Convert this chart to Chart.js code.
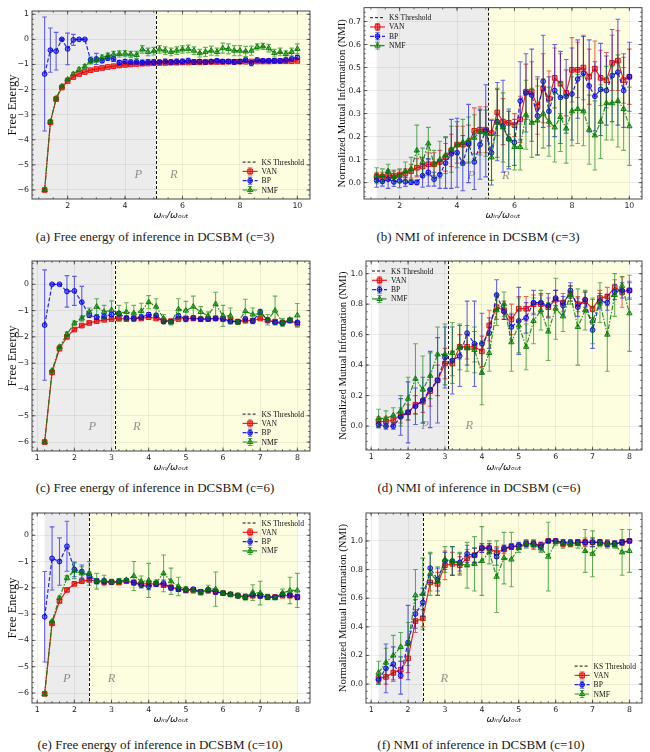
<!DOCTYPE html>
<html>
<head>
<meta charset="utf-8">
<script src="https://cdn.jsdelivr.net/npm/chart.js@4.4.1/dist/chart.umd.min.js"></script>
<style>
body { margin: 0; background: #fff; width: 650px; height: 752px; position: relative; overflow: hidden; }
canvas { position: absolute; }
.cap { position: absolute; font-family: 'Liberation Serif', serif; font-size: 13px; line-height: 15px; color: #1a1a1a; white-space: nowrap; transform: translateX(-50%); }
</style>
</head>
<body>
<canvas id="ca" width="325" height="224" style="left:0;top:0"></canvas>
<canvas id="cb" width="325" height="224" style="left:325px;top:0"></canvas>
<canvas id="cc" width="325" height="226" style="left:0;top:250px"></canvas>
<canvas id="cd" width="325" height="226" style="left:325px;top:250px"></canvas>
<canvas id="ce" width="325" height="228" style="left:0;top:500px"></canvas>
<canvas id="cf" width="325" height="228" style="left:325px;top:500px"></canvas>
<div class="cap" style="left:155px;top:229px">(a) Free energy of inference in DCSBM (c=3)</div>
<div class="cap" style="left:478px;top:229px">(b) NMI of inference in DCSBM (c=3)</div>
<div class="cap" style="left:155px;top:480px">(c) Free energy of inference in DCSBM (c=6)</div>
<div class="cap" style="left:479px;top:480px">(d) NMI of inference in DCSBM (c=6)</div>
<div class="cap" style="left:160px;top:737px">(e) Free energy of inference in DCSBM (c=10)</div>
<div class="cap" style="left:481px;top:737px">(f) NMI of inference in DCSBM (c=10)</div>
<script>
// x values (omega_in / omega_out)
const xs10 = [1.2, 1.4, 1.6, 1.8, 2.0, 2.2, 2.4, 2.6, 2.8, 3.0, 3.2, 3.4, 3.6, 3.8, 4.0, 4.2, 4.4, 4.6, 4.8, 5.0,
  5.2, 5.4, 5.6, 5.8, 6.0, 6.2, 6.4, 6.6, 6.8, 7.0, 7.2, 7.4, 7.6, 7.8, 8.0, 8.2, 8.4, 8.6, 8.8, 9.0,
  9.2, 9.4, 9.6, 9.8, 10.0];
const xs8 = [1.2, 1.4, 1.6, 1.8, 2.0, 2.2, 2.4, 2.6, 2.8, 3.0, 3.2, 3.4, 3.6, 3.8, 4.0, 4.2, 4.4, 4.6, 4.8, 5.0,
  5.2, 5.4, 5.6, 5.8, 6.0, 6.2, 6.4, 6.6, 6.8, 7.0, 7.2, 7.4, 7.6, 7.8, 8.0];

// tick labels
const xTicks10 = [2, 4, 6, 8, 10];
const xTicks8 = [1, 2, 3, 4, 5, 6, 7, 8];
const feTicksA = [1, 0, -1, -2, -3, -4, -5, -6];
const feTicks = [0, -1, -2, -3, -4, -5, -6];
const nmiTicksB = [0.0, 0.1, 0.2, 0.3, 0.4, 0.5, 0.6, 0.7];
const nmiTicks = [0.0, 0.2, 0.4, 0.6, 0.8, 1.0];

// (a) free energy, c=3
const vanA = [-6.00, -3.30, -2.38, -1.92, -1.66, -1.50, -1.38, -1.30, -1.23, -1.18, -1.14, -1.10, -1.07, -1.04, -1.02,
  -1.00, -0.98, -0.97, -0.96, -0.95, -0.94, -0.94, -0.93, -0.93, -0.92, -0.92, -0.91, -0.91, -0.91, -0.90,
  -0.90, -0.90, -0.89, -0.89, -0.89, -0.89, -0.88, -0.88, -0.88, -0.88, -0.87, -0.87, -0.87, -0.87, -0.86];
const vanErrA = [0.04, 0.05, 0.05, 0.04, 0.04, 0.04, 0.04, 0.04, 0.04, 0.04, 0.04, 0.03, 0.04, 0.04, 0.04,
  0.04, 0.04, 0.04, 0.04, 0.04, 0.04, 0.03, 0.04, 0.04, 0.04, 0.04, 0.04, 0.04, 0.03, 0.04,
  0.04, 0.04, 0.04, 0.04, 0.04, 0.03, 0.04, 0.04, 0.04, 0.04, 0.04, 0.04, 0.04, 0.04, 0.04];
const bpA = [-1.38, -0.43, -0.47, 0.00, -0.38, -0.02, 0.00, 0.00, -0.82, -0.78, -0.85, -0.75, -0.78, -0.92, -0.88,
  -0.90, -0.90, -0.92, -0.90, -0.90, -0.90, -0.88, -0.90, -0.88, -0.88, -0.85, -0.90, -0.88, -0.90, -0.88,
  -0.85, -0.88, -0.88, -0.90, -0.88, -0.82, -0.95, -0.82, -0.85, -0.85, -0.85, -0.85, -0.82, -0.78, -0.72];
const bpErrA = [2.27, 0.88, 0.75, 0.03, 0.63, 0.22, 0.02, 0.02, 0.12, 0.22, 0.08, 0.08, 0.10, 0.08, 0.08,
  0.08, 0.08, 0.10, 0.10, 0.10, 0.08, 0.10, 0.10, 0.10, 0.10, 0.10, 0.10, 0.08, 0.08, 0.08,
  0.08, 0.08, 0.08, 0.10, 0.08, 0.08, 0.10, 0.08, 0.08, 0.08, 0.08, 0.08, 0.08, 0.08, 0.08];
const nmfA = [-6.00, -3.28, -2.35, -1.87, -1.60, -1.38, -1.20, -1.08, -0.88, -0.82, -0.72, -0.65, -0.60, -0.58, -0.57,
  -0.60, -0.62, -0.40, -0.50, -0.47, -0.40, -0.45, -0.50, -0.45, -0.40, -0.38, -0.45, -0.55, -0.50, -0.45,
  -0.50, -0.35, -0.38, -0.45, -0.45, -0.48, -0.45, -0.30, -0.28, -0.35, -0.55, -0.50, -0.58, -0.50, -0.38];
const nmfErrA = [0.03, 0.05, 0.05, 0.05, 0.06, 0.06, 0.07, 0.08, 0.10, 0.10, 0.10, 0.10, 0.12, 0.12, 0.12,
  0.12, 0.14, 0.15, 0.15, 0.15, 0.15, 0.15, 0.15, 0.15, 0.15, 0.15, 0.15, 0.15, 0.18, 0.18,
  0.15, 0.20, 0.20, 0.20, 0.20, 0.20, 0.18, 0.12, 0.12, 0.15, 0.15, 0.15, 0.12, 0.15, 0.20];

// (b) NMI, c=3
const vanB = [0.025, 0.025, 0.03, 0.03, 0.035, 0.04, 0.05, 0.065, 0.07, 0.08, 0.08, 0.09, 0.11, 0.14, 0.165,
  0.165, 0.17, 0.225, 0.23, 0.23, 0.215, 0.305, 0.265, 0.26, 0.25, 0.275, 0.395, 0.395, 0.33, 0.41,
  0.365, 0.455, 0.43, 0.39, 0.49, 0.49, 0.50, 0.46, 0.495, 0.455, 0.445, 0.52, 0.53, 0.445, 0.46];
const vanErrB = [0.02, 0.02, 0.02, 0.02, 0.02, 0.02, 0.03, 0.04, 0.04, 0.05, 0.05, 0.05, 0.06, 0.07, 0.08,
  0.08, 0.08, 0.10, 0.10, 0.10, 0.06, 0.10, 0.10, 0.05, 0.05, 0.10, 0.12, 0.13, 0.12, 0.15,
  0.12, 0.13, 0.13, 0.10, 0.14, 0.12, 0.14, 0.12, 0.12, 0.12, 0.12, 0.12, 0.13, 0.10, 0.12];
const bpB = [0.01, 0.005, 0.015, 0.003, 0.008, 0.004, 0.002, 0.001, 0.03, 0.045, 0.015, 0.035, 0.085, 0.125, 0.13,
  0.085, 0.17, 0.09, 0.165, 0.225, 0.13, 0.265, 0.245, 0.19, 0.175, 0.355, 0.39, 0.38, 0.29, 0.44,
  0.31, 0.40, 0.37, 0.375, 0.385, 0.45, 0.475, 0.42, 0.375, 0.405, 0.40, 0.465, 0.48, 0.40, 0.46];
const bpErrB = [0.03, 0.02, 0.04, 0.02, 0.03, 0.02, 0.01, 0.01, 0.05, 0.06, 0.03, 0.06, 0.11, 0.15, 0.15,
  0.12, 0.17, 0.12, 0.15, 0.20, 0.14, 0.17, 0.20, 0.13, 0.10, 0.17, 0.17, 0.20, 0.17, 0.20,
  0.15, 0.20, 0.20, 0.16, 0.20, 0.17, 0.16, 0.20, 0.15, 0.20, 0.15, 0.20, 0.23, 0.16, 0.15];
const nmfB = [0.03, 0.03, 0.05, 0.025, 0.03, 0.05, 0.06, 0.14, 0.09, 0.17, 0.08, 0.10, 0.12, 0.145, 0.165,
  0.175, 0.185, 0.195, 0.22, 0.215, 0.11, 0.26, 0.24, 0.19, 0.155, 0.155, 0.295, 0.26, 0.27, 0.30,
  0.265, 0.24, 0.285, 0.235, 0.31, 0.32, 0.31, 0.23, 0.205, 0.265, 0.345, 0.345, 0.355, 0.32, 0.245];
const nmfErrB = [0.035, 0.03, 0.03, 0.03, 0.03, 0.04, 0.05, 0.11, 0.06, 0.07, 0.06, 0.08, 0.08, 0.10, 0.10,
  0.10, 0.10, 0.10, 0.10, 0.10, 0.10, 0.15, 0.15, 0.12, 0.10, 0.10, 0.15, 0.15, 0.15, 0.15,
  0.15, 0.15, 0.15, 0.15, 0.15, 0.15, 0.15, 0.15, 0.15, 0.16, 0.16, 0.16, 0.20, 0.18, 0.17];

// (c) free energy, c=6
const vanC = [-6.00, -3.35, -2.45, -2.00, -1.72, -1.57, -1.47, -1.40, -1.35, -1.32, -1.30, -1.32, -1.30, -1.30, -1.25,
  -1.30, -1.38, -1.40, -1.32, -1.30, -1.30, -1.33, -1.32, -1.30, -1.32, -1.38, -1.42, -1.38, -1.38, -1.30,
  -1.38, -1.42, -1.45, -1.38, -1.50];
const vanErrC = [0.04, 0.05, 0.05, 0.05, 0.05, 0.05, 0.04, 0.04, 0.04, 0.04, 0.04, 0.04, 0.04, 0.04, 0.04,
  0.04, 0.05, 0.05, 0.04, 0.04, 0.04, 0.04, 0.04, 0.04, 0.04, 0.05, 0.05, 0.04, 0.04, 0.04,
  0.05, 0.05, 0.05, 0.04, 0.05];
const bpC = [-1.55, 0.00, 0.00, -0.27, -0.25, -0.68, -1.18, -1.25, -1.22, -1.15, -1.12, -1.28, -1.30, -1.25, -1.15,
  -1.18, -1.42, -1.42, -1.20, -1.32, -1.28, -1.32, -1.32, -1.30, -1.32, -1.42, -1.42, -1.32, -1.40, -1.05,
  -1.35, -1.45, -1.48, -1.38, -1.45];
const bpErrC = [2.10, 0.02, 0.02, 0.60, 0.55, 0.60, 0.08, 0.08, 0.08, 0.08, 0.08, 0.08, 0.10, 0.10, 0.08,
  0.08, 0.08, 0.08, 0.08, 0.10, 0.08, 0.06, 0.06, 0.06, 0.06, 0.08, 0.06, 0.08, 0.10, 0.10,
  0.08, 0.08, 0.08, 0.06, 0.08];
const nmfC = [-6.00, -3.28, -2.38, -1.90, -1.48, -1.30, -1.05, -0.85, -1.05, -0.98, -1.10, -1.05, -1.10, -1.02, -0.68,
  -0.85, -1.30, -1.45, -0.95, -1.00, -0.85, -1.05, -1.20, -0.75, -1.20, -1.20, -1.45, -1.02, -1.15, -1.10,
  -1.35, -1.00, -1.45, -1.35, -1.18];
const nmfErrC = [0.03, 0.05, 0.06, 0.08, 0.08, 0.10, 0.15, 0.30, 0.25, 0.35, 0.30, 0.35, 0.30, 0.30, 0.25,
  0.30, 0.15, 0.10, 0.40, 0.35, 0.40, 0.20, 0.15, 0.45, 0.40, 0.30, 0.08, 0.45, 0.25, 0.10,
  0.20, 0.55, 0.15, 0.08, 0.45];

// (d) NMI, c=6
const vanD = [0.03, 0.03, 0.04, 0.07, 0.09, 0.14, 0.16, 0.23, 0.30, 0.41, 0.41, 0.52, 0.52, 0.52, 0.49,
  0.66, 0.78, 0.76, 0.70, 0.77, 0.77, 0.80, 0.80, 0.78, 0.83, 0.81, 0.87, 0.80, 0.82, 0.77,
  0.84, 0.85, 0.91, 0.88, 0.89];
const vanErrD = [0.03, 0.03, 0.03, 0.05, 0.05, 0.06, 0.07, 0.10, 0.10, 0.10, 0.08, 0.08, 0.08, 0.10, 0.10,
  0.10, 0.08, 0.06, 0.10, 0.08, 0.08, 0.06, 0.06, 0.06, 0.06, 0.06, 0.05, 0.05, 0.06, 0.06,
  0.05, 0.06, 0.05, 0.10, 0.06];
const bpD = [0.01, 0.00, 0.00, 0.06, 0.09, 0.13, 0.17, 0.24, 0.30, 0.45, 0.43, 0.46, 0.61, 0.54, 0.54,
  0.61, 0.86, 0.75, 0.65, 0.69, 0.71, 0.81, 0.81, 0.79, 0.84, 0.79, 0.89, 0.78, 0.83, 0.63,
  0.82, 0.81, 0.88, 0.89, 0.89];
const bpErrD = [0.02, 0.02, 0.02, 0.12, 0.20, 0.12, 0.15, 0.25, 0.28, 0.20, 0.22, 0.20, 0.21, 0.28, 0.20,
  0.10, 0.10, 0.05, 0.08, 0.22, 0.10, 0.08, 0.06, 0.08, 0.05, 0.06, 0.05, 0.06, 0.05, 0.12,
  0.05, 0.05, 0.05, 0.05, 0.05];
const nmfD = [0.05, 0.05, 0.07, 0.10, 0.18, 0.31, 0.24, 0.33, 0.47, 0.47, 0.48, 0.52, 0.51, 0.50, 0.35,
  0.48, 0.76, 0.80, 0.55, 0.66, 0.52, 0.69, 0.76, 0.62, 0.77, 0.72, 0.86, 0.65, 0.76, 0.69,
  0.81, 0.60, 0.86, 0.92, 0.74];
const nmfErrD = [0.06, 0.05, 0.05, 0.10, 0.14, 0.23, 0.22, 0.15, 0.18, 0.20, 0.20, 0.15, 0.15, 0.15, 0.21,
  0.12, 0.10, 0.08, 0.19, 0.18, 0.15, 0.15, 0.13, 0.19, 0.20, 0.10, 0.06, 0.25, 0.13, 0.15,
  0.13, 0.24, 0.14, 0.06, 0.25];

// (e) free energy, c=10
const vanE = [-6.03, -3.35, -2.50, -2.08, -1.85, -1.75, -1.70, -1.75, -1.78, -1.78, -1.80, -1.75, -1.80, -1.85, -1.85,
  -1.85, -1.90, -1.98, -2.05, -2.10, -2.08, -2.15, -2.10, -2.15, -2.20, -2.25, -2.30, -2.35, -2.30, -2.30,
  -2.35, -2.35, -2.30, -2.30, -2.35];
const vanErrE = [0.05, 0.05, 0.05, 0.05, 0.05, 0.05, 0.05, 0.05, 0.05, 0.05, 0.05, 0.04, 0.04, 0.05, 0.05,
  0.05, 0.05, 0.05, 0.05, 0.05, 0.05, 0.05, 0.05, 0.05, 0.05, 0.05, 0.05, 0.05, 0.05, 0.05,
  0.05, 0.05, 0.05, 0.05, 0.05];
const bpE = [-3.10, -0.88, -1.00, -0.42, -1.30, -1.38, -1.55, -1.75, -1.75, -1.78, -1.75, -1.72, -1.80, -1.90, -1.95,
  -1.85, -1.82, -2.00, -2.05, -2.08, -2.05, -2.15, -2.08, -2.15, -2.20, -2.25, -2.30, -2.35, -2.25, -2.30,
  -2.35, -2.35, -2.25, -2.28, -2.35];
const bpErrE = [1.72, 1.20, 0.90, 0.95, 0.28, 0.25, 0.15, 0.10, 0.10, 0.08, 0.08, 0.06, 0.10, 0.10, 0.12,
  0.10, 0.12, 0.10, 0.08, 0.08, 0.06, 0.08, 0.08, 0.10, 0.06, 0.06, 0.06, 0.08, 0.10, 0.10,
  0.08, 0.06, 0.08, 0.08, 0.10];
const nmfE = [-6.05, -3.28, -2.38, -1.62, -1.35, -1.45, -1.45, -1.75, -1.72, -1.78, -1.75, -1.70, -1.55, -1.75, -1.72,
  -1.80, -1.45, -1.75, -1.95, -2.05, -2.10, -2.18, -2.05, -2.05, -2.20, -2.25, -2.30, -2.35, -2.18, -2.20,
  -2.35, -2.38, -2.20, -2.10, -2.10];
const nmfErrE = [0.03, 0.05, 0.06, 0.08, 0.30, 0.25, 0.45, 0.30, 0.20, 0.10, 0.10, 0.05, 0.55, 0.20, 0.65,
  0.10, 0.70, 0.50, 0.35, 0.10, 0.10, 0.10, 0.15, 0.65, 0.08, 0.08, 0.10, 0.12, 0.30, 0.45,
  0.10, 0.08, 0.15, 0.50, 0.65];

// (f) NMI, c=10
const vanF = [0.04, 0.05, 0.08, 0.10, 0.18, 0.44, 0.46, 0.71, 0.70, 0.83, 0.84, 0.83, 0.88, 0.90, 0.95,
  0.95, 0.92, 0.94, 0.96, 0.96, 0.98, 0.98, 0.97, 1.00, 1.00, 0.98, 0.98, 0.99, 0.99, 0.99,
  0.99, 0.98, 0.98, 0.99, 1.00];
const vanErrF = [0.03, 0.05, 0.05, 0.06, 0.10, 0.08, 0.06, 0.06, 0.08, 0.10, 0.08, 0.06, 0.06, 0.05, 0.03,
  0.03, 0.04, 0.03, 0.02, 0.02, 0.02, 0.03, 0.02, 0.01, 0.01, 0.02, 0.02, 0.02, 0.03, 0.03,
  0.02, 0.02, 0.02, 0.02, 0.01];
const bpF = [0.03, 0.11, 0.14, 0.06, 0.29, 0.49, 0.57, 0.81, 0.73, 0.86, 0.86, 0.85, 0.91, 0.90, 0.95,
  0.95, 0.89, 0.95, 0.96, 0.97, 0.98, 0.98, 0.96, 1.00, 1.00, 0.99, 0.99, 0.99, 0.99, 0.99,
  0.99, 0.98, 0.98, 0.99, 1.00];
const bpErrF = [0.03, 0.17, 0.12, 0.13, 0.26, 0.10, 0.10, 0.10, 0.08, 0.06, 0.10, 0.06, 0.06, 0.05, 0.03,
  0.03, 0.06, 0.02, 0.02, 0.02, 0.02, 0.02, 0.03, 0.01, 0.01, 0.02, 0.02, 0.02, 0.02, 0.03,
  0.02, 0.02, 0.02, 0.02, 0.01];
const nmfF = [0.08, 0.15, 0.20, 0.26, 0.28, 0.62, 0.63, 0.77, 0.72, 0.87, 0.86, 0.84, 0.83, 0.84, 0.86,
  0.92, 0.75, 0.88, 0.87, 0.95, 0.98, 0.97, 0.95, 0.89, 0.99, 0.98, 0.98, 0.98, 0.93, 0.91,
  0.98, 0.98, 0.97, 0.92, 0.93];
const nmfErrF = [0.08, 0.10, 0.14, 0.10, 0.15, 0.18, 0.25, 0.15, 0.10, 0.09, 0.10, 0.08, 0.16, 0.19, 0.24,
  0.08, 0.25, 0.18, 0.19, 0.03, 0.03, 0.03, 0.03, 0.24, 0.02, 0.03, 0.02, 0.03, 0.15, 0.16,
  0.02, 0.03, 0.02, 0.16, 0.15];

// series look
const SERIES = [
  { key: 'van', label: 'VAN', rgb: '230,0,0', dash: [], style: 'rect', radius: 3.3, order: 3 },
  { key: 'bp', label: 'BP', rgb: '0,0,235', dash: [4, 2], style: 'circle', radius: 2.4, order: 2 },
  { key: 'nmf', label: 'NMF', rgb: '0,125,0', dash: [5, 1.5, 1.5, 1.5], style: 'triangle', radius: 3.1, order: 1 }
];

const FE_TITLE = 'Free Energy';
const NMI_TITLE = 'Normalized Mutual Information (NMI)';

const panels = [
  { id: 'ca', xs: xs10, van: [vanA, vanErrA], bp: [bpA, bpErrA], nmf: [nmfA, nmfErrA],
    xMin: 0.76, xMax: 10.44, yMin: -6.36, yMax: 1.13, xTicks: xTicks10, yTicks: feTicksA, yDec: 0,
    minorX: 0.5, minorY: 0.2, yTitle: FE_TITLE, thr: 5.08, greyFrom: 0.76, yellowTo: 10.44,
    pX: 4.46, rX: 5.7, prY: -5.4, legend: 'br', pad: { l: 32, r: 15, t: 11, xh: 25, ty: 5 } },
  { id: 'cb', xs: xs10, van: [vanB, vanErrB], bp: [bpB, bpErrB], nmf: [nmfB, nmfErrB],
    xMin: 0.76, xMax: 10.44, yMin: -0.071, yMax: 0.76, xTicks: xTicks10, yTicks: nmiTicksB, yDec: 1,
    minorX: 0.5, minorY: 0.02, yTitle: NMI_TITLE, thr: 5.08, greyFrom: 1.2, yellowTo: 10.0,
    pX: 4.5, rX: 5.7, prY: 0.03, legend: 'tl', pad: { l: 39, r: 8, t: 5, xh: 25, ty: 11 } },
  { id: 'cc', xs: xs8, van: [vanC, vanErrC], bp: [bpC, bpErrC], nmf: [nmfC, nmfErrC],
    xMin: 0.86, xMax: 8.34, yMin: -6.34, yMax: 0.886, xTicks: xTicks8, yTicks: feTicks, yDec: 0,
    minorX: 0.2, minorY: 0.2, yTitle: FE_TITLE, thr: 3.08, greyFrom: 0.86, yellowTo: 8.34,
    pX: 2.48, rX: 3.68, prY: -5.42, legend: 'br', pad: { l: 32, r: 15, t: 11, xh: 25, ty: 5 } },
  { id: 'cd', xs: xs8, van: [vanD, vanErrD], bp: [bpD, bpErrD], nmf: [nmfD, nmfErrD],
    xMin: 0.86, xMax: 8.34, yMin: -0.157, yMax: 1.083, xTicks: xTicks8, yTicks: nmiTicks, yDec: 1,
    minorX: 0.2, minorY: 0.05, yTitle: NMI_TITLE, thr: 3.08, greyFrom: 1.2, yellowTo: 8.0,
    pX: 2.46, rX: 3.66, prY: 0.0, legend: 'tl', pad: { l: 41, r: 8, t: 11, xh: 26, ty: 12 } },
  { id: 'ce', xs: xs8, van: [vanE, vanErrE], bp: [bpE, bpErrE], nmf: [nmfE, nmfErrE],
    xMin: 0.86, xMax: 8.34, yMin: -6.38, yMax: 0.846, xTicks: xTicks8, yTicks: feTicks, yDec: 0,
    minorX: 0.2, minorY: 0.2, yTitle: FE_TITLE, thr: 2.40, greyFrom: 1.2, yellowTo: 8.0,
    pX: 1.8, rX: 3.0, prY: -5.45, legend: 'tr', pad: { l: 32, r: 15, t: 13, xh: 25, ty: 5 } },
  { id: 'cf', xs: xs8, van: [vanF, vanErrF], bp: [bpF, bpErrF], nmf: [nmfF, nmfErrF],
    xMin: 0.86, xMax: 8.34, yMin: -0.132, yMax: 1.195, xTicks: xTicks8, yTicks: nmiTicks, yDec: 1,
    minorX: 0.2, minorY: 0.05, yTitle: NMI_TITLE, thr: 2.40, greyFrom: 1.2, yellowTo: 8.0,
    pX: null, rX: 2.98, prY: 0.04, legend: 'br', pad: { l: 41, r: 8, t: 13, xh: 25, ty: 12 } }
];

const TICK_FONT = { family: 'DejaVu Sans', size: 7.8 };
const LEGEND_FONT = '7.6px "Liberation Serif", serif';

const fmt = (v, d) => v.toFixed(d).replace('-', '\u2212');

function drawMarker(ctx, style, x, y, r) {
  ctx.beginPath();
  if (style === 'rect') {
    const s = r * Math.SQRT1_2;
    ctx.rect(x - s, y - s, 2 * s, 2 * s);
  } else if (style === 'circle') {
    ctx.arc(x, y, r, 0, Math.PI * 2);
  } else {
    ctx.moveTo(x, y - r);
    ctx.lineTo(x + r * 0.866, y + r * 0.5);
    ctx.lineTo(x - r * 0.866, y + r * 0.5);
    ctx.closePath();
  }
  ctx.fill();
  ctx.stroke();
}

// shaded P / R regions under the grid
const regionPlugin = {
  id: 'regions',
  beforeDraw(chart) {
    const p = chart.options.plugins.regions;
    const { x } = chart.scales, a = chart.chartArea, ctx = chart.ctx;
    const gx0 = x.getPixelForValue(p.greyFrom), t = x.getPixelForValue(p.thr), yx1 = x.getPixelForValue(p.yellowTo);
    ctx.save();
    ctx.fillStyle = '#ececec';
    ctx.fillRect(gx0, a.top, t - gx0, a.bottom - a.top);
    ctx.fillStyle = '#fdfde0';
    ctx.fillRect(t, a.top, yx1 - t, a.bottom - a.top);
    ctx.restore();
  },
  beforeDatasetsDraw(chart) {
    const p = chart.options.plugins.regions;
    const { x, y } = chart.scales, a = chart.chartArea, ctx = chart.ctx;
    ctx.save();
    ctx.font = 'italic 12.5px "Liberation Serif", serif';
    ctx.fillStyle = 'rgba(110,110,110,0.75)';
    ctx.textAlign = 'center';
    ctx.textBaseline = 'middle';
    if (p.pX !== null) ctx.fillText('P', x.getPixelForValue(p.pX), y.getPixelForValue(p.prY));
    ctx.fillText('R', x.getPixelForValue(p.rX), y.getPixelForValue(p.prY));
    // KS threshold
    const t = Math.round(x.getPixelForValue(p.thr)) + 0.5;
    ctx.strokeStyle = '#111';
    ctx.lineWidth = 1;
    ctx.setLineDash([3, 2]);
    ctx.beginPath();
    ctx.moveTo(t, a.top);
    ctx.lineTo(t, a.bottom);
    ctx.stroke();
    ctx.restore();
  }
};

// error bars, drawn just before each line
const errorBarPlugin = {
  id: 'errorBars',
  beforeDatasetDraw(chart, args) {
    const ds = chart.data.datasets[args.index];
    if (!ds.errors) return;
    const { x, y } = chart.scales, a = chart.chartArea, ctx = chart.ctx;
    ctx.save();
    ctx.beginPath();
    ctx.rect(a.left, a.top, a.right - a.left, a.bottom - a.top);
    ctx.clip();
    ctx.strokeStyle = ds.errColor;
    ctx.lineWidth = 1.1;
    ds.data.forEach((pt, i) => {
      const e = ds.errors[i];
      const px = x.getPixelForValue(pt.x);
      const y0 = y.getPixelForValue(pt.y - e), y1 = y.getPixelForValue(pt.y + e);
      ctx.beginPath();
      ctx.moveTo(px, y0); ctx.lineTo(px, y1);
      ctx.moveTo(px - 2.3, y0); ctx.lineTo(px + 2.3, y0);
      ctx.moveTo(px - 2.3, y1); ctx.lineTo(px + 2.3, y1);
      ctx.stroke();
    });
    ctx.restore();
  }
};

// frame, inward ticks and legend
const framePlugin = {
  id: 'frame',
  afterDatasetsDraw(chart) {
    const p = chart.options.plugins.frame;
    const { x, y } = chart.scales, a = chart.chartArea, ctx = chart.ctx;
    ctx.save();
    ctx.strokeStyle = '#333';
    ctx.lineWidth = 0.9;
    ctx.strokeRect(a.left, a.top, a.right - a.left, a.bottom - a.top);
    ctx.lineWidth = 0.7;
    ctx.beginPath();
    const tickX = (v, len) => {
      const px = x.getPixelForValue(v);
      ctx.moveTo(px, a.bottom); ctx.lineTo(px, a.bottom - len);
      ctx.moveTo(px, a.top); ctx.lineTo(px, a.top + len);
    };
    const tickY = (v, len) => {
      const py = y.getPixelForValue(v);
      ctx.moveTo(a.left, py); ctx.lineTo(a.left + len, py);
      ctx.moveTo(a.right, py); ctx.lineTo(a.right - len, py);
    };
    p.xTicks.forEach(v => tickX(v, 3.5));
    p.yTicks.forEach(v => tickY(v, 3.5));
    for (let v = Math.ceil(x.min / p.minorX) * p.minorX; v <= x.max; v += p.minorX) tickX(v, 1.8);
    for (let v = Math.ceil(y.min / p.minorY) * p.minorY; v <= y.max; v += p.minorY) tickY(v, 1.8);
    ctx.stroke();

    // legend
    ctx.font = LEGEND_FONT;
    const rows = [{ label: 'KS Threshold', ks: true }].concat(SERIES);
    const tw = Math.max(...rows.map(r => ctx.measureText(r.label).width));
    const sw = 15, gap = 4, rh = 9.3;
    const boxW = sw + gap + tw;
    const x0 = p.legend[1] === 'l' ? a.left + 6 : a.right - 6 - boxW;
    const yFirst = p.legend[0] === 't' ? a.top + 10 : a.bottom - 9 - (rows.length - 1) * rh;
    ctx.textBaseline = 'middle';
    ctx.textAlign = 'left';
    rows.forEach((r, i) => {
      const cy = yFirst + i * rh;
      ctx.save();
      if (r.ks) {
        ctx.strokeStyle = '#111';
        ctx.lineWidth = 1;
        ctx.setLineDash([3, 2]);
        ctx.beginPath(); ctx.moveTo(x0, cy); ctx.lineTo(x0 + sw, cy); ctx.stroke();
      } else {
        ctx.strokeStyle = `rgba(${r.rgb},0.85)`;
        ctx.lineWidth = 1.2;
        ctx.setLineDash(r.dash);
        ctx.beginPath(); ctx.moveTo(x0, cy); ctx.lineTo(x0 + sw, cy); ctx.stroke();
        ctx.setLineDash([]);
        const mx = x0 + sw / 2;
        ctx.strokeStyle = `rgba(${r.rgb},0.65)`;
        ctx.lineWidth = 1;
        ctx.beginPath();
        ctx.moveTo(mx, cy - 3.5); ctx.lineTo(mx, cy + 3.5);
        ctx.moveTo(mx - 2.2, cy - 3.5); ctx.lineTo(mx + 2.2, cy - 3.5);
        ctx.moveTo(mx - 2.2, cy + 3.5); ctx.lineTo(mx + 2.2, cy + 3.5);
        ctx.stroke();
        ctx.fillStyle = `rgba(${r.rgb},0.45)`;
        ctx.strokeStyle = `rgba(${r.rgb},0.9)`;
        drawMarker(ctx, r.style, mx, cy, r.radius);
      }
      ctx.restore();
      ctx.fillStyle = '#111';
      ctx.fillText(r.label, x0 + sw + gap, cy + 0.5);
    });
    ctx.restore();
  }
};

panels.forEach(p => {
  const datasets = SERIES.map(s => {
    const [vals, errs] = p[s.key];
    return {
      label: s.label,
      data: p.xs.map((xv, i) => ({ x: xv, y: vals[i] })),
      errors: errs,
      errColor: `rgba(${s.rgb},0.6)`,
      borderColor: `rgba(${s.rgb},0.85)`,
      borderWidth: 1.2,
      borderDash: s.dash,
      pointStyle: s.style,
      pointRadius: s.radius,
      pointBorderWidth: 1,
      pointBackgroundColor: `rgba(${s.rgb},0.45)`,
      pointBorderColor: `rgba(${s.rgb},0.9)`,
      fill: false,
      tension: 0,
      order: s.order
    };
  });

  new Chart(document.getElementById(p.id), {
    type: 'line',
    data: { datasets },
    plugins: [regionPlugin, errorBarPlugin, framePlugin],
    options: {
      responsive: false,
      animation: false,
      events: [],
      layout: { padding: { left: 0, right: p.pad.r, top: p.pad.t, bottom: 0 } },
      plugins: {
        legend: { display: false },
        tooltip: { enabled: false },
        regions: { thr: p.thr, greyFrom: p.greyFrom, yellowTo: p.yellowTo, pX: p.pX, rX: p.rX, prY: p.prY },
        frame: { xTicks: p.xTicks, yTicks: p.yTicks, minorX: p.minorX, minorY: p.minorY, legend: p.legend }
      },
      scales: {
        x: {
          type: 'linear',
          min: p.xMin,
          max: p.xMax,
          afterBuildTicks: s => { s.ticks = p.xTicks.map(v => ({ value: v })); },
          afterFit: s => { s.height = p.pad.xh; },
          ticks: { font: TICK_FONT, color: '#222', padding: 2, maxRotation: 0, callback: v => fmt(v, 0) },
          grid: { color: 'rgba(0,0,0,0.11)', lineWidth: 0.6, drawTicks: false },
          border: { display: false },
          title: {
            display: true,
            text: '\u03c9\u1d62\u2099/\u03c9\u2092\u1d64\u209c',
            font: { family: 'DejaVu Sans', size: 9.5, style: 'italic' },
            color: '#111',
            padding: { top: 0, bottom: 3 }
          }
        },
        y: {
          type: 'linear',
          min: p.yMin,
          max: p.yMax,
          afterBuildTicks: s => { s.ticks = p.yTicks.map(v => ({ value: v })); },
          afterFit: s => { s.width = p.pad.l; },
          ticks: { font: TICK_FONT, color: '#222', padding: 3, callback: v => fmt(v, p.yDec) },
          grid: { color: 'rgba(0,0,0,0.11)', lineWidth: 0.6, drawTicks: false },
          border: { display: false },
          title: {
            display: true,
            text: p.yTitle,
            font: { family: 'Liberation Serif', size: p.yTitle === FE_TITLE ? 12.5 : 10.7 },
            color: '#111',
            padding: { top: p.pad.ty, bottom: 0 }
          }
        }
      }
    }
  });
});
</script>
</body>
</html>
